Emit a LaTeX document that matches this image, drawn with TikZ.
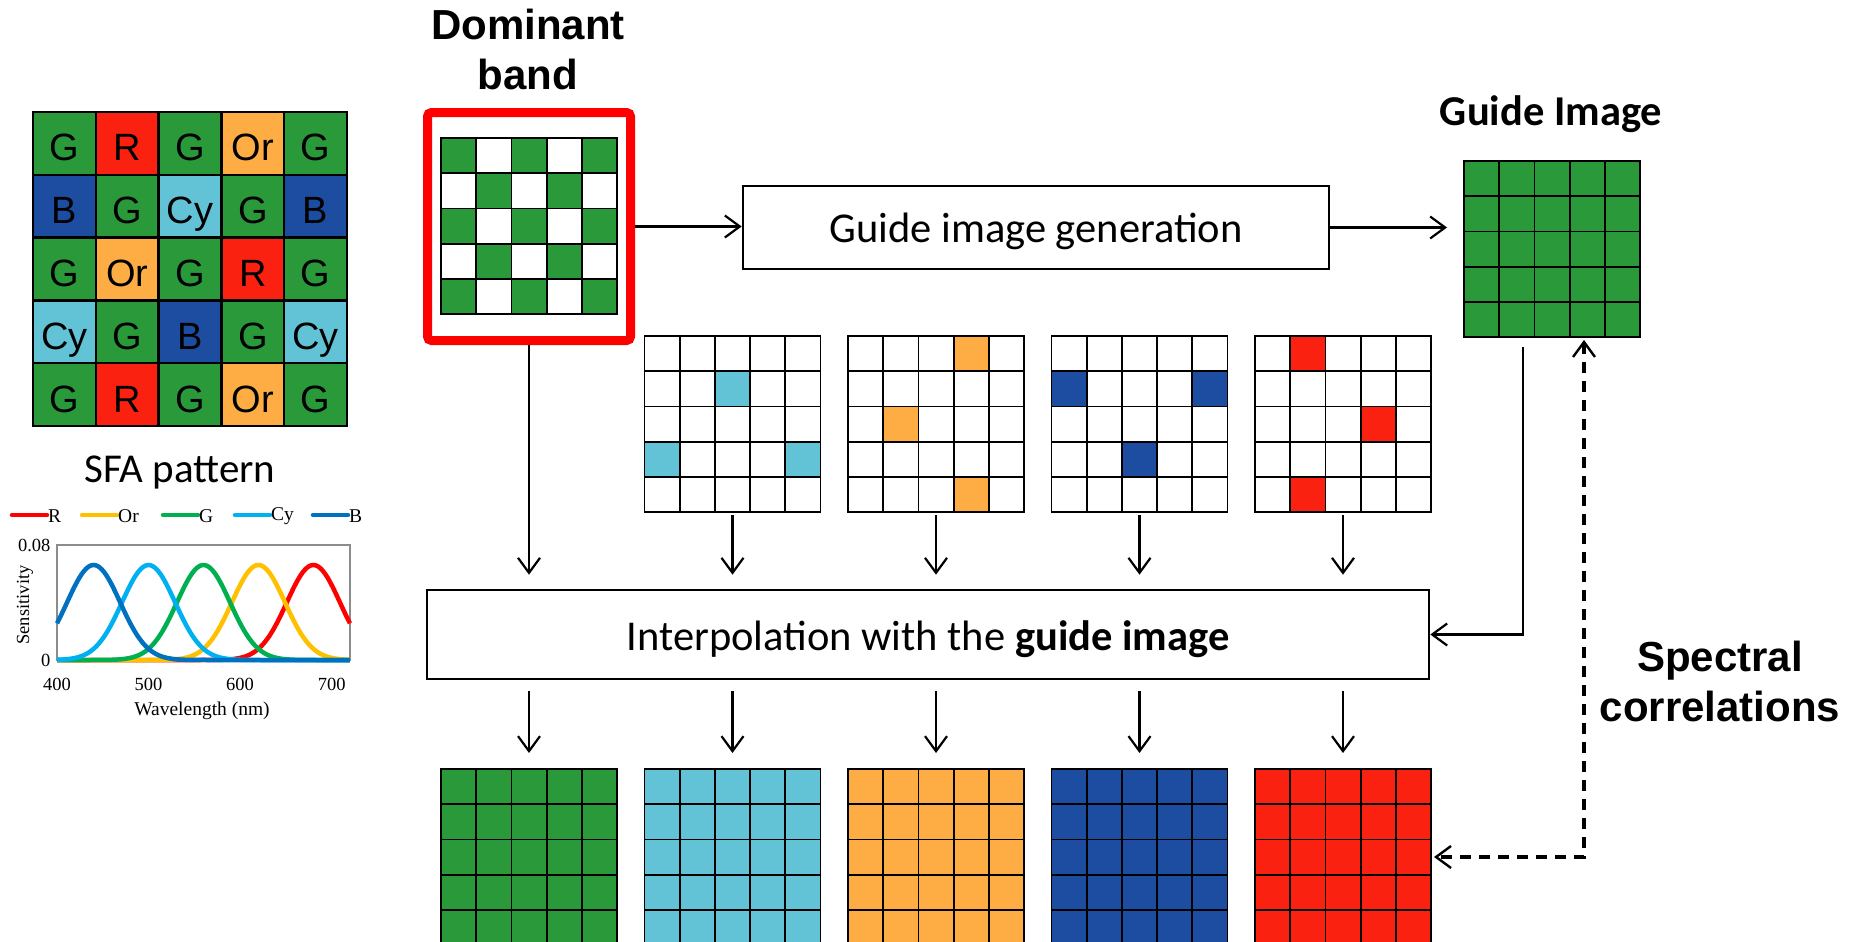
\documentclass[tikz,border=0pt]{standalone}
\usepackage{fontspec}
\setmainfont{Carlito}
\newfontfamily\arialf{Liberation Sans}
\newfontfamily\timesf{Liberation Serif}
\usetikzlibrary{arrows.meta,calc}
\definecolor{cG}{RGB}{41,153,58}
\definecolor{cR}{RGB}{250,33,16}
\definecolor{cO}{RGB}{253,173,68}
\definecolor{cC}{RGB}{98,195,214}
\definecolor{cB}{RGB}{28,77,160}
\definecolor{pR}{RGB}{255,0,0}
\definecolor{pO}{RGB}{255,192,0}
\definecolor{pG}{RGB}{0,176,80}
\definecolor{pC}{RGB}{0,176,240}
\definecolor{pB}{RGB}{0,112,192}
\tikzset{
  gl/.style={line width=1.8pt, black, line cap=rect},
  gridnode/.style={draw=none, minimum width=176pt, minimum height=176pt, inner sep=0pt, outer sep=0pt},
  sfacell/.style={draw=black, line width=2.4pt, minimum width=62.8pt, minimum height=62.8pt, inner sep=0pt, text height=35pt, text depth=0pt, font=\arialf\fontsize{38}{40}\selectfont},
  procbox/.style={draw=black, line width=2.6pt, fill=white, inner sep=0pt, text depth=0pt},
  arr/.style={line width=2.2pt, -{Straight Barb[length=15pt,width=22pt]}},
  dasharr/.style={line width=3.2pt, dash pattern=on 11pt off 8pt, {Straight Barb[length=15pt,width=22pt,line width=2.4pt]}-{Straight Barb[length=15pt,width=22pt,line width=2.4pt]}},
  bigbold/.style={font=\arialf\bfseries\fontsize{42}{50}\selectfont, align=center},
  curve/.style={line width=4.5pt},
  tick/.style={font=\timesf\fontsize{18.5}{20}\selectfont},
}
\newcommand{\cellat}[5]{\fill[#1] ({#2+#5*35.2},{#3+#4*35.2}) rectangle ++(35.2,35.2);}
\newcommand{\gridlines}[2]{\foreach \k in {0,...,5}{\draw[gl] ({#1+\k*35.2},#2) -- ++(0,176); \draw[gl] (#1,{#2+\k*35.2}) -- ++(176,0);}}
\begin{document}
\begin{tikzpicture}[x=1pt,y=-1pt]
\useasboundingbox (0,0) rectangle (1852,942);
\clip (0,0) rectangle (1852,942);
\fill[white] (0,0) rectangle (1852,942);

% SFA pattern
\foreach \r/\c/\t/\col in {0/0/G/cG,0/1/R/cR,0/2/G/cG,0/3/Or/cO,0/4/G/cG,
  1/0/B/cB,1/1/G/cG,1/2/Cy/cC,1/3/G/cG,1/4/B/cB,
  2/0/G/cG,2/1/Or/cO,2/2/G/cG,2/3/R/cR,2/4/G/cG,
  3/0/Cy/cC,3/1/G/cG,3/2/B/cB,3/3/G/cG,3/4/Cy/cC,
  4/0/G/cG,4/1/R/cR,4/2/G/cG,4/3/Or/cO,4/4/G/cG}
  {\node[sfacell, fill=\col] (sfa-\r-\c) at ({64.4+\c*62.8},{143.4+\r*62.8}) {\t};}
\node[font=\fontsize{41}{44}\selectfont] (sfalabel) at (180,472) {SFA pattern};

% Sensitivity chart
\foreach \lx/\col/\t in {12/pR/R,82/pO/Or,163/pG/G,235/pC/Cy,313/pB/B}
  {\draw[line width=4.5pt, \col, line cap=round] (\lx,515) -- ++(35,0);
   \node[anchor=west, inner sep=1pt, font=\timesf\fontsize{19.5}{21}\selectfont] (leg-\t) at (\lx+35,516) {\t};}
\draw[line width=1.4pt, black!45] (57,545) rectangle (350,660);
\foreach \mu/\col in {680/pR,620/pO,560/pG,500/pC,440/pB}
  {\draw[curve, \col] plot[domain=400:720, samples=120, smooth]
     ({57+(\x-400)*0.9156},{660-95*exp(-min(((\x-\mu)/29)^2/2,15))});}
\node[tick, anchor=east] (y008) at (54,545) {0.08};
\node[tick, anchor=east] (y0) at (54,660) {0};
\foreach \v in {400,500,600,700}
  {\node[tick] (xt\v) at ({57+(\v-400)*0.9156},684) {\v};}
\node[tick, rotate=90] (ylab) at (25,605) {Sensitivity};
\node[font=\timesf\fontsize{19.5}{21}\selectfont] (xlab) at (202,711) {Wavelength (nm)};

% Dominant band
\node[bigbold] (tdom) at (528,49) {Dominant\\band};
\node[draw=red, line width=9pt, rounded corners=4pt, minimum width=203pt, minimum height=228pt, inner sep=0pt] (rb) at (529,226.5) {};
\foreach \r in {0,...,4}{\foreach \c in {0,...,4}{%
  \pgfmathparse{int(mod(\r+\c,2))}%
  \ifnum\pgfmathresult=0 \cellat{cG}{441}{138}{\r}{\c}\fi}}
\gridlines{441}{138}
\node[gridnode] (gd) at (529,226) {};

% Guide image generation
\node[procbox, minimum width=586pt, minimum height=83pt, text height=30pt] (gb) at (1036,227.5)
  {\fontsize{42.5}{46}\selectfont Guide image generation};
\node[font=\bfseries\fontsize{42.5}{46}\selectfont] (tgi) at (1551,114) {Guide Image};
\fill[cG] (1464,161) rectangle ++(176,176);
\gridlines{1464}{161}
\node[gridnode] (gi) at (1552,249) {};

% sparse grids
\foreach \r/\c in {1/2,3/0,3/4}{\cellat{cC}{644.5}{336}{\r}{\c}}
\gridlines{644.5}{336}
\node[gridnode] (s1) at (732.5,424) {};
\foreach \r/\c in {0/3,2/1,4/3}{\cellat{cO}{848}{336}{\r}{\c}}
\gridlines{848}{336}
\node[gridnode] (s2) at (936,424) {};
\foreach \r/\c in {1/0,1/4,3/2}{\cellat{cB}{1051.5}{336}{\r}{\c}}
\gridlines{1051.5}{336}
\node[gridnode] (s3) at (1139.5,424) {};
\foreach \r/\c in {0/1,2/3,4/1}{\cellat{cR}{1255}{336}{\r}{\c}}
\gridlines{1255}{336}
\node[gridnode] (s4) at (1343,424) {};

% interpolation
\node[procbox, minimum width=1002pt, minimum height=89pt, text height=32pt] (ib) at (928,634.5)
  {\fontsize{42.5}{46}\selectfont Interpolation with the \textbf{guide image}};

% output grids
\foreach \x/\col/\n in {441/cG/bG,644.5/cC/bC,848/cO/bO,1051.5/cB/bB,1255/cR/bR}
  {\fill[\col] (\x,769) rectangle ++(176,176);
   \gridlines{\x}{769}
   \node[gridnode] (\n) at (\x+88,857) {};}

% connectors
\draw[arr] (rb.east) -- (rb.east -| gb.west);
\draw[arr, shorten >=17pt] (gb.east) -- (gb.east -| gi.west);
\draw[arr, shorten >=14pt] (rb.south) -- (rb.south |- ib.north);
\foreach \s in {s1,s2,s3,s4}
  {\draw[arr, shorten <=3pt, shorten >=14pt] (\s.south) -- (\s.south |- ib.north);}
\foreach \b in {bG,bC,bO,bB,bR}
  {\draw[arr, shorten <=11pt, shorten >=16pt] (ib.south -| \b.north) -- (\b.north);}
\draw[arr, shorten <=10pt] ([xshift=-29pt]gi.south) |- (ib.east);
\draw[dasharr, shorten <=3pt, shorten >=3pt] ([xshift=32pt]gi.south) |- (bR.east);
\node[bigbold] (tsc) at (1720,681) {Spectral\\correlations};
\end{tikzpicture}
\end{document}
